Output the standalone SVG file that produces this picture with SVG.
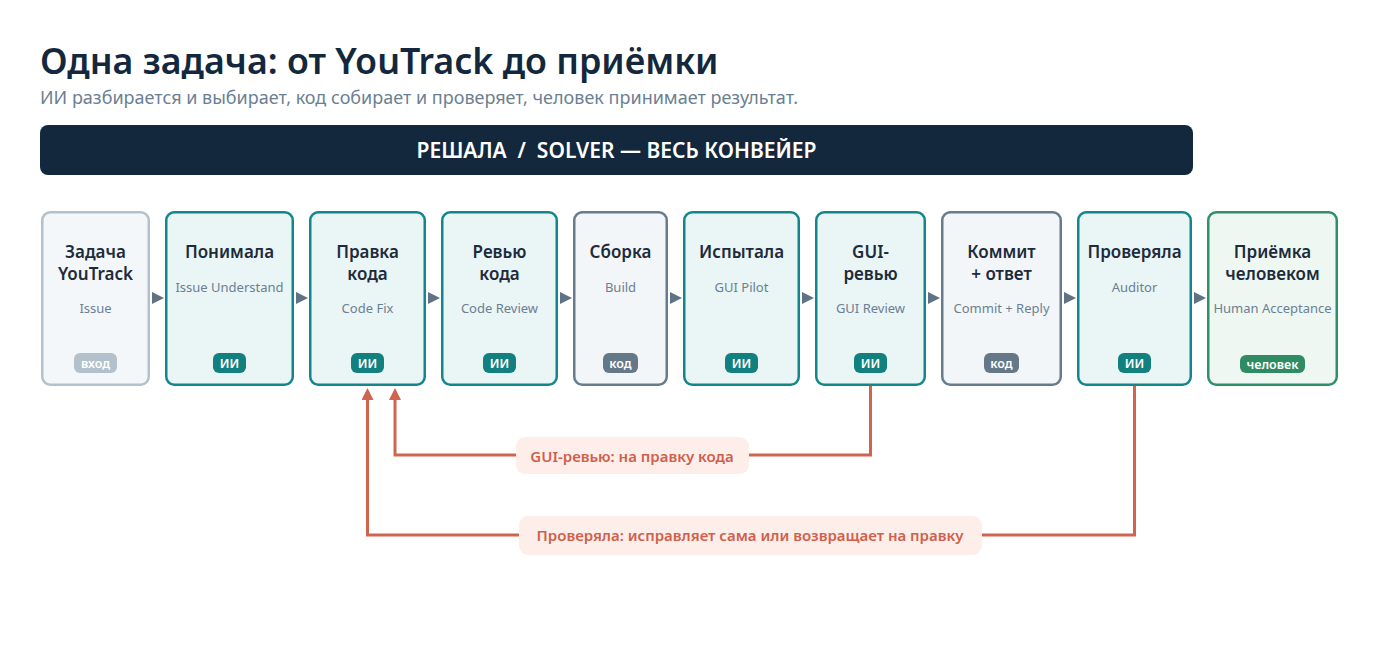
<svg xmlns="http://www.w3.org/2000/svg" width="1400" height="650" viewBox="0 0 1400 650">
<defs>
<style>
text{font-family:"Noto Sans","Open Sans","DejaVu Sans",sans-serif}
.title{font-size:35.8px;font-weight:600;fill:#13283d}
.sub{font-size:18px;fill:#6b7f93}
.banner{font-size:21px;font-weight:600;fill:#ffffff}
.nt{font-size:17px;font-weight:600;fill:#1d2b3b;text-anchor:middle}
.ns{font-size:13px;fill:#6b7f93;text-anchor:middle}
.bt{font-size:12.5px;font-weight:600;fill:#ffffff;text-anchor:middle}
.in rect.box{fill:#f4f7f9;stroke:#b3c1cc;stroke-width:2.5}
.ai rect.box{fill:#eaf5f5;stroke:#12868a;stroke-width:2.5}
.code rect.box{fill:#f3f6f8;stroke:#687b8c;stroke-width:2.5}
.hum rect.box{fill:#eef7f2;stroke:#2e9068;stroke-width:2.5}
.in rect.bd{fill:#b3c1cc}
.ai rect.bd{fill:#12807f}
.code rect.bd{fill:#647888}
.hum rect.bd{fill:#2e8b62}
.flow{fill:#5f7385}
.fb{fill:none;stroke:#d0644e;stroke-width:3}
.lb{fill:#fdeeea}
.lt{font-size:15px;font-weight:600;fill:#d0604c;text-anchor:middle}
</style>
<marker id="ah" viewBox="0 0 12 12" refX="8" refY="6" markerWidth="12" markerHeight="12" markerUnits="userSpaceOnUse" orient="auto">
<path d="M0,0 L12,6 L0,12 z" fill="#d0644e"/>
</marker>
</defs>
<rect width="1400" height="650" fill="#ffffff"/>
<text class="title" x="40" y="74">Одна задача: от YouTrack до приёмки</text>
<text class="sub" x="40" y="104">ИИ разбирается и выбирает, код собирает и проверяет, человек принимает результат.</text>
<g id="banner">
<rect x="40" y="125" width="1153" height="50" rx="8" fill="#13283d"/>
<text class="banner" x="616.5" y="158" text-anchor="middle" xml:space="preserve">РЕШАЛА  /  SOLVER — ВЕСЬ КОНВЕЙЕР</text>
</g>
<g id="flow-arrows">
<polygon class="flow" points="152,292 164,298 152,304"/>
<polygon class="flow" points="296,292 308,298 296,304"/>
<polygon class="flow" points="428,292 440,298 428,304"/>
<polygon class="flow" points="560,292 572,298 560,304"/>
<polygon class="flow" points="670,292 682,298 670,304"/>
<polygon class="flow" points="802,292 814,298 802,304"/>
<polygon class="flow" points="928,292 940,298 928,304"/>
<polygon class="flow" points="1064,292 1076,298 1064,304"/>
<polygon class="flow" points="1194,292 1206,298 1194,304"/>
</g>
<g id="n1" class="in">
<rect class="box" x="42.25" y="212.25" width="106.5" height="172.5" rx="8"/>
<text class="nt" x="95.5" y="258">Задача</text>
<text class="nt" x="95.5" y="280">YouTrack</text>
<text class="ns" x="95.5" y="313">Issue</text>
<rect class="bd" x="74" y="353" width="43" height="20" rx="6"/>
<text class="bt" x="95.5" y="367.5">вход</text>
</g>
<g id="n2" class="ai">
<rect class="box" x="166.25" y="212.25" width="126.5" height="172.5" rx="8"/>
<text class="nt" x="229.5" y="258">Понимала</text>
<text class="ns" x="229.5" y="292">Issue Understand</text>
<rect class="bd" x="213" y="353" width="33" height="20" rx="6"/>
<text class="bt" x="229.5" y="367.5">ИИ</text>
</g>
<g id="n3" class="ai">
<rect class="box" x="310.25" y="212.25" width="114.5" height="172.5" rx="8"/>
<text class="nt" x="367.5" y="258">Правка</text>
<text class="nt" x="367.5" y="280">кода</text>
<text class="ns" x="367.5" y="313">Code Fix</text>
<rect class="bd" x="351" y="353" width="33" height="20" rx="6"/>
<text class="bt" x="367.5" y="367.5">ИИ</text>
</g>
<g id="n4" class="ai">
<rect class="box" x="442.25" y="212.25" width="114.5" height="172.5" rx="8"/>
<text class="nt" x="499.5" y="258">Ревью</text>
<text class="nt" x="499.5" y="280">кода</text>
<text class="ns" x="499.5" y="313">Code Review</text>
<rect class="bd" x="483" y="353" width="33" height="20" rx="6"/>
<text class="bt" x="499.5" y="367.5">ИИ</text>
</g>
<g id="n5" class="code">
<rect class="box" x="574.25" y="212.25" width="92.5" height="172.5" rx="8"/>
<text class="nt" x="620.5" y="258">Сборка</text>
<text class="ns" x="620.5" y="292">Build</text>
<rect class="bd" x="603" y="353" width="35" height="20" rx="6"/>
<text class="bt" x="620.5" y="367.5">код</text>
</g>
<g id="n6" class="ai">
<rect class="box" x="684.25" y="212.25" width="114.5" height="172.5" rx="8"/>
<text class="nt" x="741.5" y="258">Испытала</text>
<text class="ns" x="741.5" y="292">GUI Pilot</text>
<rect class="bd" x="725" y="353" width="33" height="20" rx="6"/>
<text class="bt" x="741.5" y="367.5">ИИ</text>
</g>
<g id="n7" class="ai">
<rect class="box" x="816.25" y="212.25" width="108.5" height="172.5" rx="8"/>
<text class="nt" x="870.5" y="258">GUI-</text>
<text class="nt" x="870.5" y="280">ревью</text>
<text class="ns" x="870.5" y="313">GUI Review</text>
<rect class="bd" x="854" y="353" width="33" height="20" rx="6"/>
<text class="bt" x="870.5" y="367.5">ИИ</text>
</g>
<g id="n8" class="code">
<rect class="box" x="942.25" y="212.25" width="118.5" height="172.5" rx="8"/>
<text class="nt" x="1001.5" y="258">Коммит</text>
<text class="nt" x="1001.5" y="280">+ ответ</text>
<text class="ns" x="1001.5" y="313">Commit + Reply</text>
<rect class="bd" x="984" y="353" width="35" height="20" rx="6"/>
<text class="bt" x="1001.5" y="367.5">код</text>
</g>
<g id="n9" class="ai">
<rect class="box" x="1078.25" y="212.25" width="112.5" height="172.5" rx="8"/>
<text class="nt" x="1134.5" y="258">Проверяла</text>
<text class="ns" x="1134.5" y="292">Auditor</text>
<rect class="bd" x="1118" y="353" width="33" height="20" rx="6"/>
<text class="bt" x="1134.5" y="367.5">ИИ</text>
</g>
<g id="n10" class="hum">
<rect class="box" x="1208.25" y="212.25" width="128.5" height="172.5" rx="8"/>
<text class="nt" x="1272.5" y="258">Приёмка</text>
<text class="nt" x="1272.5" y="280">человеком</text>
<text class="ns" x="1272.5" y="313">Human Acceptance</text>
<rect class="bd" x="1240" y="355" width="65" height="18" rx="6"/>
<text class="bt" x="1272.5" y="368.5">человек</text>
</g>
<g id="connectors">
<polyline class="fb" points="870.5,386 870.5,455 395,455 395,392" marker-end="url(#ah)"/>
<polyline class="fb" points="1134.5,386 1134.5,535 367.5,535 367.5,392" marker-end="url(#ah)"/>
<rect class="lb" x="516" y="437" width="233" height="37" rx="9"/>
<text class="lt" x="632" y="462">GUI-ревью: на правку кода</text>
<rect class="lb" x="519" y="516" width="463" height="39" rx="9"/>
<text class="lt" x="750" y="541">Проверяла: исправляет сама или возвращает на правку</text>
</g>
</svg>
